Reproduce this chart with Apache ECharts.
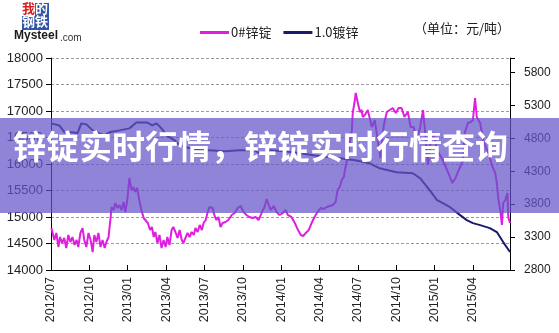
<!DOCTYPE html>
<html>
<head>
<meta charset="utf-8">
<script src="https://cdn.jsdelivr.net/npm/echarts@6/dist/echarts.min.js"></script>
<style>
html,body{margin:0;padding:0;background:#fff;}
#chart{width:559px;height:333px;}
</style>
</head>
<body>
<div id="chart"></div>
<script>
// ---- data ----
const seriesNames = ['0#锌锭', '1.0镀锌'];
const xTickLabels = ['2012/07','2012/10','2013/01','2013/04','2013/07','2013/10','2014/01','2014/04','2014/07','2014/10','2015/01','2015/04'];
const leftTicks = [14000,14500,15000,15500,16000,16500,17000,17500,18000];
const rightTicks = [2800,3300,3800,4300,4800,5300,5800];
const unitText = '（单位：元/吨）';
const overlayTitle = '锌锭实时行情，锌锭实时行情查询';

const zincDates = [
'2012-07-02','2012-07-09','2012-07-14','2012-07-19','2012-07-23','2012-07-28','2012-08-02','2012-08-07','2012-08-12','2012-08-17',
'2012-08-22','2012-08-27','2012-09-01','2012-09-05','2012-09-10','2012-09-15','2012-09-19','2012-09-24','2012-09-29','2012-10-04',
'2012-10-09','2012-10-13','2012-10-18','2012-10-23','2012-10-28','2012-11-02','2012-11-07','2012-11-11','2012-11-16','2012-11-21',
'2012-11-23','2012-11-28','2012-12-02','2012-12-07','2012-12-12','2012-12-17','2012-12-22','2012-12-26','2012-12-31','2013-01-05',
'2013-01-10','2013-01-15','2013-01-19','2013-01-24','2013-01-29','2013-02-03','2013-02-08','2013-02-12','2013-02-17','2013-02-22',
'2013-02-26','2013-03-02','2013-03-06','2013-03-11','2013-03-16','2013-03-21','2013-03-26','2013-03-31','2013-04-04','2013-04-09',
'2013-04-14','2013-04-18','2013-04-23','2013-04-28','2013-05-03','2013-05-08','2013-05-12','2013-05-17','2013-05-22','2013-05-27',
'2013-06-01','2013-06-06','2013-06-10','2013-06-15','2013-06-20','2013-06-25','2013-06-29','2013-07-04','2013-07-09','2013-07-13',
'2013-07-21','2013-07-25','2013-07-30','2013-08-04','2013-08-09','2013-08-14','2013-08-21','2013-08-28','2013-09-05','2013-09-12',
'2013-09-19','2013-09-26','2013-10-03','2013-10-10','2013-10-17','2013-10-25','2013-11-01','2013-11-08','2013-11-15','2013-11-22',
'2013-11-27','2013-12-02','2013-12-07','2013-12-14','2013-12-21','2013-12-28','2014-01-05','2014-01-12','2014-01-17','2014-01-26',
'2014-02-03','2014-02-10','2014-02-16','2014-02-21','2014-02-27','2014-03-06','2014-03-13','2014-03-20','2014-03-27','2014-04-04',
'2014-04-11','2014-04-18','2014-04-25','2014-05-02','2014-05-09','2014-05-14','2014-05-19','2014-05-24','2014-05-29','2014-06-02',
'2014-06-07','2014-06-12','2014-06-17','2014-06-19','2014-06-24','2014-06-26','2014-07-01','2014-07-06','2014-07-10','2014-07-13',
'2014-07-18','2014-07-25','2014-08-04','2014-08-11','2014-08-18','2014-08-25','2014-09-02','2014-09-09','2014-09-16','2014-09-23',
'2014-09-30','2014-10-07','2014-10-14','2014-10-21','2014-10-29','2014-11-05','2014-11-12','2014-11-19','2014-11-27','2014-12-04',
'2014-12-11','2014-12-16','2014-12-23','2014-12-30','2015-01-07','2015-01-14','2015-01-21','2015-01-28','2015-02-05','2015-02-12',
'2015-02-19','2015-02-26','2015-03-03','2015-03-08','2015-03-12','2015-03-20','2015-03-27','2015-04-01','2015-04-06','2015-04-10',
'2015-04-18','2015-04-25','2015-05-02','2015-05-09','2015-05-16','2015-05-24','2015-05-28','2015-05-31','2015-06-05','2015-06-09',
'2015-06-12','2015-06-17','2015-06-22','2015-06-24','2015-06-28'
];
const zincPrices = [
14792,14566,14698,14434,14622,14509,14604,14415,14660,14528,
14622,14472,14566,14434,14698,14792,14566,14434,14698,14566,
14339,14660,14528,14698,14434,14566,14415,14528,14622,15000,
15188,15132,15264,15170,15226,15132,15283,15094,15320,15736,
15509,15566,15471,15547,15320,15132,14981,15000,14887,14754,
14811,14622,14717,14509,14660,14415,14566,14434,14622,14472,
14754,14811,14717,14604,14754,14566,14509,14604,14698,14622,
14717,14660,14792,14717,14849,14754,14887,14943,15094,15188,
15170,15038,14943,15000,14811,14887,14906,14943,15038,15075,
15170,15207,15094,15038,15000,14981,15000,14943,15075,15188,
15339,15226,15132,15207,15094,15038,15075,15132,15038,15000,
14887,14754,14660,14641,14698,14754,14887,15000,15094,15170,
15151,15188,15207,15226,15283,15509,15566,15698,15754,15943,
16132,16396,16641,16962,17207,17340,17151,16981,17019,16887,
16924,17019,16698,16830,16453,16113,16736,16981,17019,17057,
16962,17057,17057,16887,16981,16698,16698,16453,16679,17019,
16453,15981,16453,16585,16264,16170,16075,15943,15792,15641,
15736,15887,15981,16075,16585,16773,16792,16830,17245,16887,
16773,16453,16302,16170,15981,15830,15641,15377,15132,14849,
15264,15320,15453,15000,14887
];

const galvDates = [
'2012-07-01','2012-07-21','2012-08-03','2012-08-22','2012-09-03','2012-09-12','2012-09-24','2012-10-09','2012-10-25','2012-11-07',
'2012-11-18','2012-12-12','2013-01-05','2013-01-22','2013-02-15','2013-02-27','2013-03-09','2013-03-21','2013-04-02','2013-04-21',
'2013-05-03','2013-05-27','2013-06-20','2013-07-13','2013-08-19','2013-09-24','2013-10-29','2013-11-11','2013-11-23','2013-12-04',
'2014-01-09','2014-02-14','2014-04-02','2014-05-19','2014-06-24','2014-07-30','2014-08-23','2014-10-02','2014-11-10','2014-11-27',
'2014-12-20','2015-01-07','2015-01-21','2015-02-07','2015-03-01','2015-03-17','2015-04-01','2015-04-18','2015-05-11','2015-05-28',
'2015-06-12','2015-06-28'
];
const galvPrices = [
5027,4997,4891,4891,4876,5027,5012,4921,4876,4845,
4891,4921,4951,5042,5042,4997,5027,4951,4845,4770,
4694,4648,4618,4618,4603,4618,4618,4573,4573,4618,
4603,4573,4527,4497,4467,4421,4345,4285,4270,4194,
4012,3861,3815,3754,3633,3557,3512,3482,3436,3376,
3224,3073
];

// ---- helpers ----
function monthIndex(d) {
  const [y, m, day] = d.split('-').map(Number);
  const dim = new Date(Date.UTC(y, m, 0)).getUTCDate();
  return (y - 2012) * 12 + (m - 7) + (day - 1) / dim;
}
function labelForIndex(v) {
  const k = Math.round(v);
  if (Math.abs(v - k) > 1e-6 || k % 3 !== 0) return '';
  const i = k / 3;
  return xTickLabels[i] || '';
}
const zincData = zincDates.map((d, i) => [monthIndex(d), zincPrices[i]]);
const galvData = galvDates.map((d, i) => [monthIndex(d), galvPrices[i]]);

const chart = echarts.init(document.getElementById('chart'), null, {renderer: 'canvas'});
const axisFont = 'Liberation Sans, Arial, sans-serif';
const option = {
  backgroundColor: '#ffffff',
  animation: false,
  grid: {left: 51, right: 49, top: 58, bottom: 63},
  legend: {
    data: seriesNames,
    left: 195, top: 21,
    icon: 'rect', itemWidth: 29, itemHeight: 3, itemGap: 12,
    textStyle: {fontSize: 13, color: '#222', fontFamily: 'Noto Sans CJK SC, sans-serif', padding: [0,0,0,-3]}
  },
  xAxis: {
    type: 'value', min: 0, max: 35.9, interval: 3,
    axisLine: {show: true, lineStyle: {color: '#000', width: 1}},
    axisTick: {show: true, inside: true, length: 5, lineStyle: {color: '#000'}},
    splitLine: {show: false},
    axisLabel: {
      rotate: 90, margin: 7, fontSize: 12.5, color: '#222', fontFamily: axisFont,
      showMaxLabel: false, formatter: labelForIndex
    }
  },
  yAxis: [
    {
      type: 'value', min: leftTicks[0], max: leftTicks[leftTicks.length-1], interval: 500,
      position: 'left',
      axisLine: {show: true, lineStyle: {color: '#000'}},
      axisTick: {show: true, length: 5, lineStyle: {color: '#000'}},
      splitLine: {show: true, lineStyle: {color: '#9a9a9a', type: [3, 2], width: 1}},
      axisLabel: {fontSize: 13, color: '#222', fontFamily: axisFont, margin: 8,
        formatter: v => leftTicks.includes(v) ? String(v) : ''}
    },
    {
      type: 'value', min: rightTicks[0], max: 6020, interval: 500,
      position: 'right',
      axisLine: {show: true, lineStyle: {color: '#000'}},
      axisTick: {show: true, length: 5, lineStyle: {color: '#000'}},
      splitLine: {show: false},
      axisLabel: {
        fontSize: 12, color: '#222', fontFamily: axisFont, margin: 14,
        formatter: v => rightTicks.includes(v) ? String(v) : ''
      }
    }
  ],
  series: [
    {
      name: seriesNames[0], type: 'line', yAxisIndex: 0, data: zincData,
      symbol: 'none', lineStyle: {color: '#e01ee0', width: 2},
      itemStyle: {color: '#e01ee0'}, z: 3
    },
    {
      name: seriesNames[1], type: 'line', yAxisIndex: 1, data: galvData,
      symbol: 'none', lineStyle: {color: '#1c1a6b', width: 2},
      itemStyle: {color: '#1c1a6b'}, z: 2
    }
  ],
  graphic: [
    // logo
    {type: 'rect', left: 22, top: 3, z: 100, shape: {width: 27, height: 27}, style: {fill: '#2f55a4'}},
    {type: 'rect', left: 22, top: 3, z: 100, shape: {width: 13, height: 13}, style: {fill: '#ffffff'}},
    {type: 'text', left: 22, top: 2, z: 101, style: {text: '我', fill: '#d81e1e', font: 'bold 13px "Noto Sans CJK SC"'}},
    {type: 'text', left: 35, top: 2, z: 101, style: {text: '的', fill: '#ffffff', font: 'bold 13px "Noto Sans CJK SC"'}},
    {type: 'text', left: 22, top: 15, z: 101, style: {text: '钢铁', fill: '#ffffff', font: 'bold 13px "Noto Sans CJK SC"'}},
    {type: 'text', left: 14, top: 30, z: 101, style: {text: 'Mysteel', fill: '#1a1a1a', font: 'bold 12px "Liberation Sans"'}},
    {type: 'text', left: 60, top: 33, z: 101, style: {text: '.com', fill: '#333', font: '10px "Liberation Sans"'}},
    // unit
    {type: 'text', left: 414, top: 22, z: 101, style: {text: unitText, fill: '#222', font: '13px "Noto Sans CJK SC"'}},
    // overlay band
    {type: 'rect', left: 0, top: 118, z: 200, shape: {width: 559, height: 95}, style: {fill: 'rgba(100,85,200,0.72)'}},
    {type: 'text', left: 13, top: 130, z: 201, style: {
      text: overlayTitle, fill: '#ffffff', font: 'bold 33px "Noto Sans CJK SC"',
      shadowColor: 'rgba(0,0,0,0.55)', shadowBlur: 4, shadowOffsetX: 1, shadowOffsetY: 2
    }}
  ]
};
chart.setOption(option);
</script>
</body>
</html>
